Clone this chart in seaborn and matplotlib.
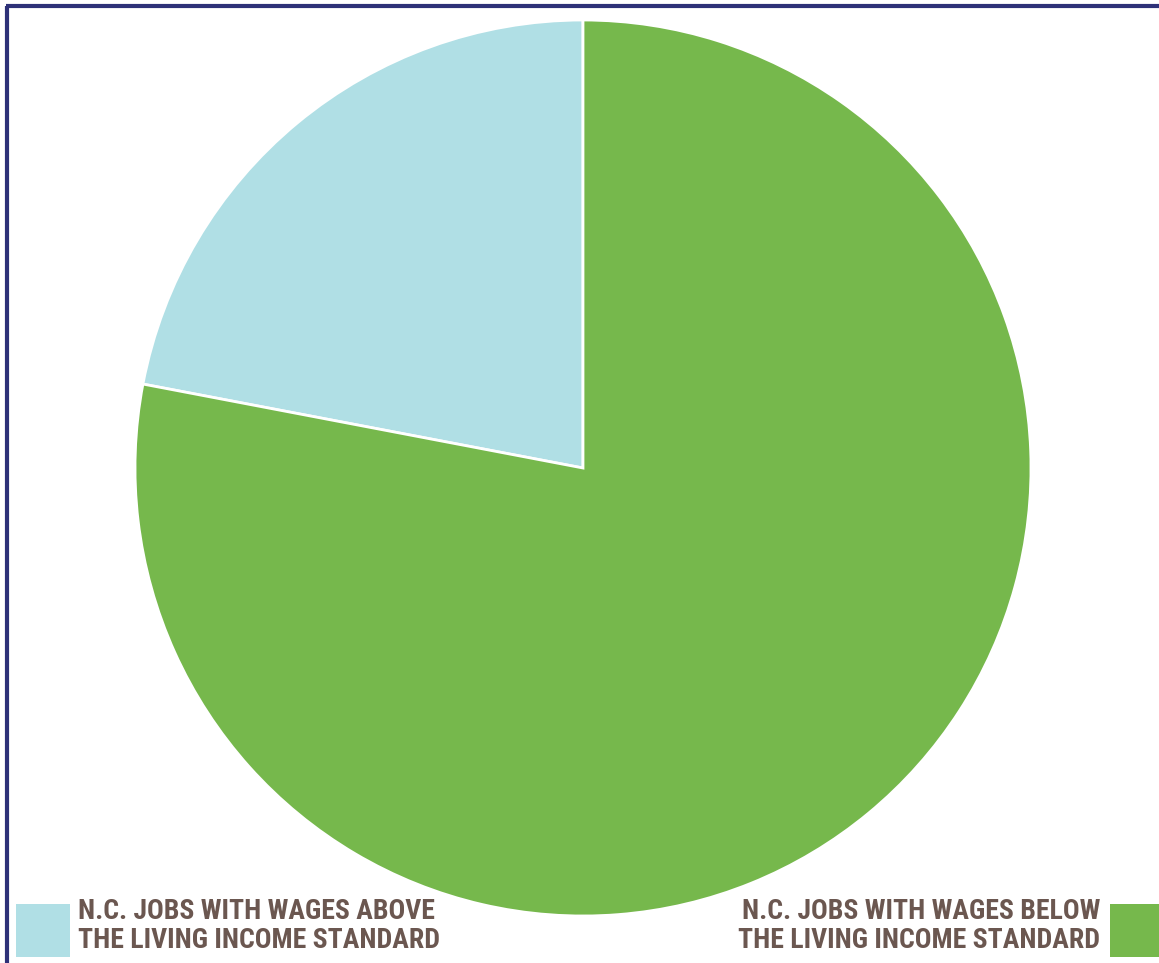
import matplotlib
matplotlib.use("Agg")
import matplotlib.pyplot as plt
import matplotlib.patches as mpatches
import seaborn as sns

categories = ["N.C. JOBS WITH WAGES ABOVE\nTHE LIVING INCOME STANDARD",
              "N.C. JOBS WITH WAGES BELOW\nTHE LIVING INCOME STANDARD"]
values = [22, 78]
colors = ["#b0dfe5", "#76b84c"]

sns.set_theme(style="white")
plt.rcParams['font.family'] = ['Roboto Condensed', 'DejaVu Sans']

W, H = 1159, 963
fig = plt.figure(figsize=(W / 100, H / 100), dpi=100)
ax = fig.add_axes([0, 0, 1, 1])

ax.pie(values, colors=colors, startangle=90, counterclock=True,
       center=(583, H - 468), radius=448,
       wedgeprops=dict(edgecolor="white", linewidth=2))
ax.set_xlim(0, W)
ax.set_ylim(0, H)
ax.set_aspect("auto")
ax.axis("off")

# frame (top and left visible)
ax.plot([7, 7], [0, H - 6], color="#2e3178", lw=3, solid_capstyle="butt")
ax.plot([6, W], [H - 6, H - 6], color="#2e3178", lw=3, solid_capstyle="butt")

txtc = "#6b5750"
ax.add_patch(mpatches.Rectangle((16, H - 957), 54, 53, color=colors[0], lw=0))
ax.add_patch(mpatches.Rectangle((1110, H - 957), 60, 53, color=colors[1], lw=0))
ax.text(78, H - 926, categories[0], ha="left", va="center", fontsize=20,
        fontweight="heavy", color=txtc, linespacing=1.08)
ax.text(1100, H - 926, categories[1], ha="right", va="center", fontsize=20,
        fontweight="heavy", color=txtc, linespacing=1.08, multialignment="right")

fig.savefig("out.png", dpi=100, facecolor="white")
